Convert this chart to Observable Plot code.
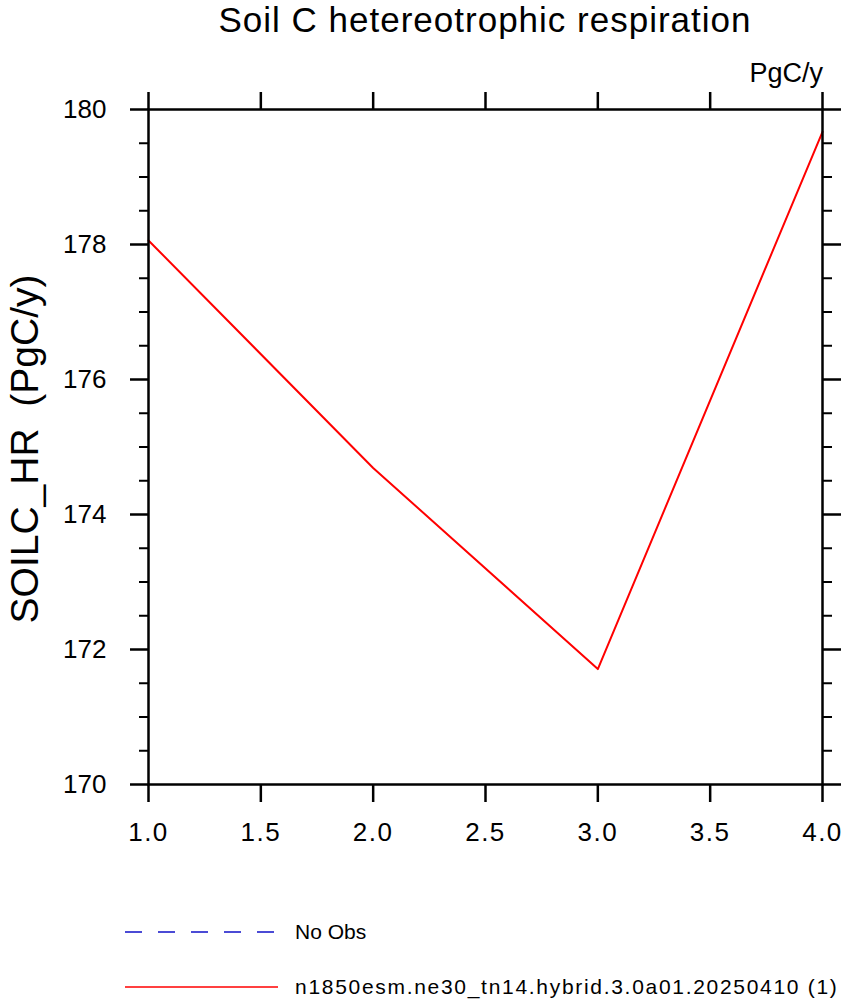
<!DOCTYPE html>
<html>
<head>
<meta charset="utf-8">
<script src="https://cdn.jsdelivr.net/npm/d3@7"></script>
<script src="https://cdn.jsdelivr.net/npm/@observablehq/plot@0.6"></script>
<style>
  html, body { margin: 0; padding: 0; background: #fff; }
  body { font-family: "Liberation Sans", Arial, Helvetica, sans-serif; }
  #wrap { position: relative; width: 844px; height: 999px; overflow: hidden; }
  #chart { position: absolute; left: 0; top: 0; }
  .ov { position: absolute; white-space: pre; color: #000; line-height: 1.15; }
  #title { left: 0; width: 970px; text-align: center; top: 0px; font-size: 35px; letter-spacing: 1px; line-height: normal; }
  #units { right: 21px; top: 58px; font-size: 27px; }
  #ylab { left: 25px; top: 449px; font-size: 39px; transform: translate(-50%, -50%) rotate(-90deg); }
  .leg { position: absolute; left: 125px; display: flex; align-items: center; font-size: 21px; white-space: pre; }
  .leg svg { display: block; margin-right: 17px; }
  #leg2 span { letter-spacing: 1.7px; }
  g[aria-label="x-axis tick label"] text { letter-spacing: 1.5px; }
</style>
</head>
<body>
<div id="wrap">
  <div id="chart"></div>
  <div class="ov" id="title">Soil C hetereotrophic respiration</div>
  <div class="ov" id="units">PgC/y</div>
  <div class="ov" id="ylab">SOILC_HR  (PgC/y)</div>
  <div class="leg" id="leg1" style="top:920px"></div>
  <div class="leg" id="leg2" style="top:975px"></div>
</div>
<script>
const years = [1, 2, 3, 4];
const soilcHR = [178.06, 174.69, 171.71, 179.67];
const xTicks = [1.0, 1.5, 2.0, 2.5, 3.0, 3.5, 4.0];
const yTicks = [170, 172, 174, 176, 178, 180];
const yMinor = d3.range(170, 180.01, 0.5).filter(v => !yTicks.includes(v));
const legendItems = [
  {label: "No Obs", color: "#1010c8", dash: "17,16"},
  {label: "n1850esm.ne30_tn14.hybrid.3.0a01.20250410 (1)", color: "#ff0000", dash: null}
];

const data = years.map((x, i) => ({x, y: soilcHR[i]}));
const font = "\"Liberation Sans\", Arial, Helvetica, sans-serif";

const plot = Plot.plot({
  width: 844,
  height: 870,
  marginLeft: 148,
  marginRight: 22,
  marginTop: 109,
  marginBottom: 86,
  style: {fontFamily: font, fontSize: "26px", color: "#000", background: "#fff"},
  x: {domain: [1, 4]},
  y: {domain: [170, 180]},
  marks: [
    Plot.axisX({anchor: "bottom", ticks: xTicks, tickFormat: d3.format(".1f"), tickSize: 18, tickPadding: 20, strokeWidth: 2.5, label: null, fontSize: 26}),
    Plot.axisX({anchor: "top", ticks: xTicks, tickSize: 18, text: null, strokeWidth: 2.5, label: null}),
    Plot.axisY({anchor: "left", ticks: yTicks, tickFormat: d => d3.format("d")(d), tickSize: 18, tickPadding: 24, strokeWidth: 2.5, label: null, fontSize: 26}),
    Plot.axisY({anchor: "left", ticks: yMinor, tickSize: 9, text: null, strokeWidth: 2, label: null}),
    Plot.axisY({anchor: "right", ticks: yTicks, tickSize: 18, text: null, strokeWidth: 2.5, label: null}),
    Plot.axisY({anchor: "right", ticks: yMinor, tickSize: 9, text: null, strokeWidth: 2, label: null}),
    Plot.line(data, {x: "x", y: "y", stroke: "#ff0000", strokeWidth: 2}),
    Plot.frame({stroke: "#000", strokeWidth: 2.5})
  ]
});
document.getElementById("chart").appendChild(plot);

legendItems.forEach((item, i) => {
  const el = document.getElementById("leg" + (i + 1));
  const ns = "http://www.w3.org/2000/svg";
  const svg = document.createElementNS(ns, "svg");
  svg.setAttribute("width", 153);
  svg.setAttribute("height", 20);
  const ln = document.createElementNS(ns, "line");
  ln.setAttribute("x1", 0); ln.setAttribute("x2", 153);
  ln.setAttribute("y1", 10); ln.setAttribute("y2", 10);
  ln.setAttribute("stroke", item.color);
  ln.setAttribute("stroke-width", 1.5);
  if (item.dash) ln.setAttribute("stroke-dasharray", item.dash);
  svg.appendChild(ln);
  el.appendChild(svg);
  const t = document.createElement("span");
  t.textContent = item.label;
  el.appendChild(t);
});
</script>
</body>
</html>
